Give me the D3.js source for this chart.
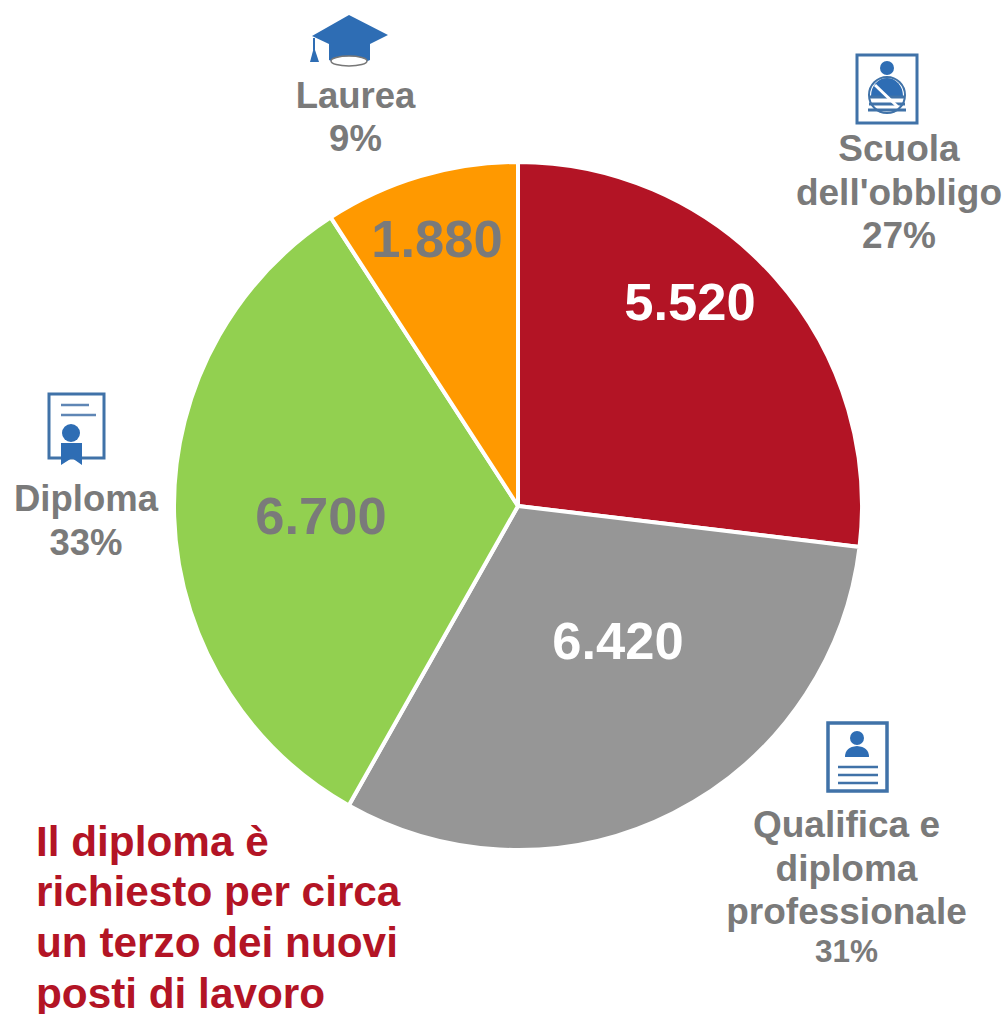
<!DOCTYPE html>
<html><head><meta charset="utf-8">
<script src="https://cdn.jsdelivr.net/npm/d3@7/dist/d3.min.js"></script>
<style>html,body{margin:0;padding:0;background:#fff;overflow:hidden}svg{display:block}text{font-family:"Liberation Sans",Arial,sans-serif;font-weight:bold}</style>
</head><body><div id="chart"></div>
<script>
const categories = ["Scuola dell'obbligo","Qualifica e diploma professionale","Diploma","Laurea"];
const values = [5520,6420,6700,1880];
const valueLabels = ["5.520","6.420","6.700","1.880"];
const percentLabels = ["27%","31%","33%","9%"];
const colors = ["#b31425","#969696","#92d050","#ff9900"];
const valueColors = ["#ffffff","#ffffff","#7a7a7a","#7a7a7a"];
const noteLines = ["Il diploma è","richiesto per circa","un terzo dei nuovi","posti di lavoro"];

const W=1005,H=1014,cx=518,cy=506,R=344;
const valuePos=[[690,320],[618,659],[321,534],[437,257]];
const catLayout=[
 {x:899,lines:[["Scuola",161,37],["dell'obbligo",205,37],["27%",248,37]]},
 {x:846.5,lines:[["Qualifica e",837,37],["diploma",881,37],["professionale",924,37],["31%",962,31.5]]},
 {x:86,lines:[["Diploma",511,36.5],["33%",555,36.5]]},
 {x:355.5,lines:[["Laurea",108,36.5],["9%",151,36.5]]}
];
const svg=d3.select("#chart").append("svg").attr("width",W).attr("height",H);
const defs=svg.append("defs");
defs.append("filter").attr("id","soft").append("feGaussianBlur").attr("stdDeviation",0.6);
const pie=d3.pie().sort(null)(values);
const arc=d3.arc().innerRadius(0).outerRadius(R);
const g=svg.append("g").attr("transform",`translate(${cx},${cy})`);
g.selectAll("path").data(pie).join("path").attr("d",arc)
 .attr("fill",(d,i)=>colors[i]).attr("stroke","#fff").attr("stroke-width",4).attr("stroke-linejoin","round");
svg.selectAll("text.val").data(valueLabels).join("text").attr("class","val")
 .attr("x",(d,i)=>valuePos[i][0]).attr("y",(d,i)=>valuePos[i][1])
 .attr("text-anchor","middle").attr("font-size",52.5).attr("fill",(d,i)=>valueColors[i]).text(d=>d);
catLayout.forEach(c=>{c.lines.forEach(l=>{
 svg.append("text").attr("x",c.x).attr("y",l[1]).attr("text-anchor","middle")
  .attr("font-size",l[2]).attr("fill","#7a7a7a").text(l[0]);
});});
svg.selectAll("text.note").data(noteLines).join("text").attr("class","note")
 .attr("x",36).attr("y",(d,i)=>[856,906,957,1008][i]).attr("font-size",42.3).attr("fill","#b31425").text(d=>d);

const blue="#2e6db4",frame="#3f72a8";
const icons=svg.append("g").attr("filter","url(#soft)");
// cap
const cap=icons.append("g");
cap.append("path").attr("d","M349 15 L388 35 L370 44 L370 60 Q349 70 329 60 L329 44 L312 36 Z").attr("fill",blue);
cap.append("ellipse").attr("cx",349).attr("cy",61).attr("rx",18).attr("ry",5).attr("fill","#fff").attr("stroke","#777").attr("stroke-width",1.5);
cap.append("path").attr("d","M314 38 L314 50").attr("stroke",blue).attr("stroke-width",2);
cap.append("path").attr("d","M314 47 L319 62 L310 62 Z").attr("fill",blue);
// scuola
const sc=icons.append("g");
sc.append("rect").attr("x",857).attr("y",55).attr("width",60).attr("height",68).attr("fill","#fff").attr("stroke",frame).attr("stroke-width",3);
sc.append("circle").attr("cx",887).attr("cy",68).attr("r",7).attr("fill",blue);
sc.append("path").attr("d","M871 96 A16 18 0 0 1 903 96 Z").attr("fill",blue);
sc.append("path").attr("d","M869 97 L905 97 M869 104 L905 104 M868 110 L906 110").attr("stroke",frame).attr("stroke-width",3);
sc.append("path").attr("d","M875 85 L899 108").attr("stroke","#fff").attr("stroke-width",3);
sc.append("circle").attr("cx",887).attr("cy",95).attr("r",18).attr("fill","none").attr("stroke",frame).attr("stroke-width",2);
// diploma
const di=icons.append("g");
di.append("rect").attr("x",49).attr("y",394).attr("width",55).attr("height",64).attr("fill","#fff").attr("stroke",frame).attr("stroke-width",3);
di.append("path").attr("d","M61 405 H89 M61 415 H96").attr("stroke","#5f86b5").attr("stroke-width",2.5);
di.append("circle").attr("cx",71).attr("cy",433).attr("r",9).attr("fill",blue);
di.append("path").attr("d","M61 443 H82 V465 L72 458 L61 465 Z").attr("fill",blue);
// qualifica
const qu=icons.append("g");
qu.append("rect").attr("x",828).attr("y",723).attr("width",59).attr("height",68).attr("fill","#fff").attr("stroke",frame).attr("stroke-width",3.5);
qu.append("circle").attr("cx",857).attr("cy",738).attr("r",7).attr("fill",blue);
qu.append("path").attr("d","M845 757 Q845 747 857 746 Q869 747 869 757 Z").attr("fill",blue);
qu.append("path").attr("d","M838 767 H878 M838 775 H878 M838 783 H878").attr("stroke",frame).attr("stroke-width",2.5);
</script></body></html>
